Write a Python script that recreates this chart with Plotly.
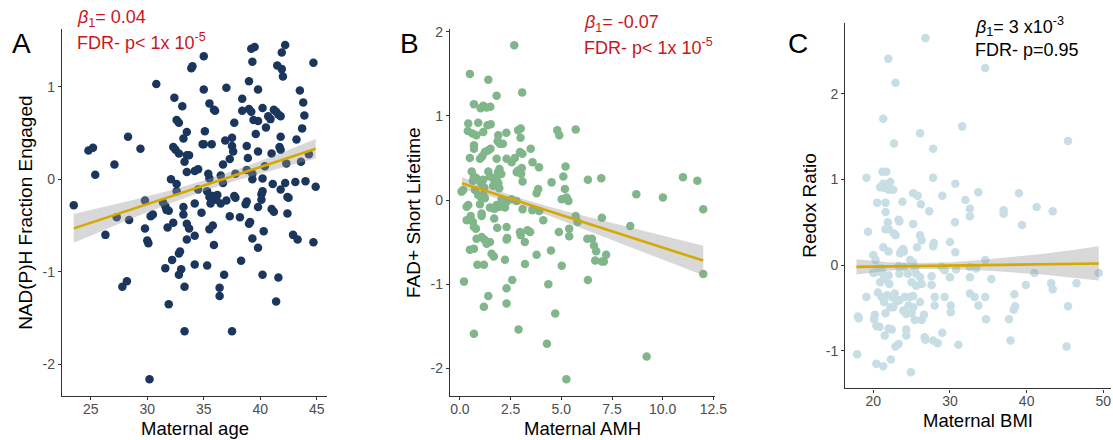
import plotly.graph_objects as go

# ---------------- Panel A : Maternal age vs NAD(P)H Fraction Engaged ----------------
age_A = [23.5,24.8,25.2,25.4,26.3,27.1,27.3,27.8,28.2,28.3,28.4,29.4,29.8,29.8,30.0,30.1,30.2,30.3,30.5,30.8,
         31.4,31.6,31.7,31.9,31.9,31.6,31.8,32.2,32.1,32.4,32.6,32.8,32.3,32.5,32.8,32.6,32.6,32.3,32.8,32.9,
         32.8,33.0,33.1,33.2,33.5,33.5,33.7,33.3,33.5,33.2,33.2,33.5,33.7,33.5,33.3,33.3,33.9,34.0,34.2,34.2,
         34.2,34.2,35.0,35.0,35.5,36.0,35.9,35.1,34.9,35.0,35.7,34.5,35.4,35.5,34.5,34.8,35.3,35.5,35.8,36.1,
         36.5,36.2,35.6,35.5,35.8,35.9,35.3,36.8,36.4,36.4,37.5,37.0,36.7,36.5,36.7,37.0,37.3,37.5,37.5,37.6,
         37.7,36.9,37.8,37.3,37.7,37.8,38.2,38.3,38.4,38.4,38.8,38.9,38.8,38.7,38.8,39.0,39.0,39.2,39.1,39.0,
         39.3,39.8,39.2,39.5,39.3,39.4,39.8,39.6,39.8,39.8,39.3,39.3,39.8,40.1,40.2,40.1,40.3,40.2,40.2,40.5,
         40.2,40.4,40.7,40.9,41.2,41.4,41.6,41.8,41.0,41.1,41.0,41.2,41.4,41.6,41.5,41.9,42.0,41.9,42.2,41.7,
         41.8,41.8,41.8,42.2,42.3,42.4,42.5,42.4,42.9,43.3,43.1,43.2,43.5,43.8,43.9,43.7,43.6,44.0,44.3,44.7,
         44.7,44.9]
nadph_A = [-0.28,0.31,0.34,0.05,-0.60,0.16,-0.41,-1.16,-1.10,0.46,-0.44,0.33,-0.23,-0.53,-0.66,-0.69,-2.16,-0.40,-0.38,1.03,
           -0.25,-0.29,-0.33,-0.34,-1.35,-0.96,-0.52,-0.87,0.00,0.88,0.64,0.61,0.35,0.32,0.28,-0.05,-0.13,-0.47,-0.80,-0.78,
           -1.03,-0.97,0.79,0.44,0.51,0.26,0.26,0.19,0.08,-0.30,-0.38,-0.48,-0.53,-0.65,-1.16,-1.64,1.20,1.22,-0.92,-0.61,
           -0.26,0.09,1.33,0.97,0.82,0.74,0.75,0.52,0.38,0.38,0.38,0.11,0.06,0.01,-0.11,-0.36,-0.13,-0.19,-0.18,-0.22,
           -0.26,-0.17,-0.26,-0.54,-0.50,-0.71,-0.93,-1.03,-1.17,-1.26,-1.64,0.99,0.16,0.04,-0.04,-0.23,0.22,0.45,0.36,0.30,
           0.61,0.42,0.06,-0.40,-0.18,-0.20,-0.41,-0.88,0.87,0.74,0.36,0.23,0.10,-0.27,-0.24,1.06,0.76,0.73,-0.46,-0.48,
           -0.64,-0.74,1.41,1.43,1.27,0.64,0.63,0.49,0.97,0.30,0.06,0.00,-0.30,-0.16,-0.13,-0.22,-0.56,-1.03,0.77,0.56,
           0.01,0.14,0.68,0.65,0.75,0.73,0.70,0.68,0.28,-0.05,-0.32,-0.35,-1.32,-1.06,1.23,1.19,1.11,1.37,1.45,0.35,
           0.32,0.46,-0.11,-0.04,0.17,-0.19,-0.20,-0.37,-0.60,-0.65,-0.03,0.43,0.96,0.83,0.69,0.55,0.19,-0.02,0.27,1.26,
           -0.68,-0.08]
fitx_A = [23.5, 26.0, 29.0, 32.0, 35.0, 38.0, 41.0, 44.9]
fity_A = [-0.53, -0.43, -0.31, -0.19, -0.07, 0.05, 0.17, 0.33]
lo_A = [-0.685, -0.555, -0.405, -0.26, -0.128, -0.008, 0.095, 0.225]
hi_A = [-0.375, -0.305, -0.215, -0.12, -0.012, 0.108, 0.245, 0.435]
ticks_xA = [25, 30, 35, 40, 45]
ticks_yA = [-2, -1, 0, 1]

# ---------------- Panel B : Maternal AMH vs FAD+ Short Lifetime ----------------
amh_B = [2.68,0.49,1.40,1.81,3.07,0.69,1.15,1.02,1.32,1.50,0.41,0.39,0.62,0.81,0.90,1.15,1.36,1.52,0.69,0.69,
         0.49,0.99,1.10,1.23,1.38,1.51,1.81,1.89,1.97,2.12,2.29,1.86,2.30,2.55,2.71,2.96,3.08,2.99,2.87,3.00,
         3.49,3.58,3.90,3.05,2.80,2.87,3.02,3.09,1.95,1.88,2.04,0.58,0.69,0.64,0.81,0.99,1.15,1.07,1.20,1.40,
         1.48,1.64,1.81,1.73,1.89,1.94,1.64,0.08,0.16,0.74,0.90,1.07,1.15,1.23,0.99,0.33,0.41,1.07,1.07,1.48,
         1.64,1.81,1.73,1.97,2.22,2.30,2.06,2.55,2.79,3.09,3.78,3.86,3.57,3.91,4.11,4.52,4.80,4.90,5.71,5.21,
         5.10,5.18,5.02,5.26,5.35,5.71,5.80,5.39,5.39,4.88,0.33,0.53,0.64,0.69,0.79,0.82,0.49,0.69,1.07,1.20,
         1.32,1.48,1.56,1.67,1.84,1.69,2.30,2.33,2.30,2.22,2.96,3.20,3.00,3.33,3.46,3.21,3.78,4.49,5.02,0.86,
         1.18,0.20,2.58,2.30,1.40,1.18,2.30,4.36,4.70,0.69,2.89,4.29,5.25,6.31,6.97,8.70,10.01,11.0,11.71,12.0,
         12.0,7.0,8.40,6.28,6.51,6.61,6.72,6.67,7.0,7.1,7.21,6.31,9.21]
fad_B = [1.84,1.50,1.43,1.24,1.28,1.14,1.12,1.09,1.10,1.11,0.91,0.82,0.79,0.77,0.92,0.81,0.89,0.90,0.65,0.61,
         0.50,0.49,0.52,0.57,0.59,0.61,0.49,0.77,0.67,0.67,0.80,0.70,0.49,0.45,0.50,0.57,0.55,0.74,0.83,0.85,
         0.61,0.45,0.39,0.38,0.33,0.35,0.31,0.22,0.37,0.33,0.31,0.34,0.28,0.23,0.26,0.23,0.24,0.19,0.15,0.34,
         0.28,0.26,0.24,0.22,0.20,0.14,0.17,0.10,0.12,0.12,0.06,0.02,0.06,0.02,-0.05,-0.08,-0.06,-0.16,-0.19,-0.09,
         -0.10,-0.06,-0.10,-0.08,-0.09,-0.02,0.01,0.01,-0.01,-0.11,0.08,0.13,-0.12,-0.13,-0.24,0.21,0.83,0.77,0.84,0.40,
         0.28,0.13,0.01,0.03,-0.01,-0.19,-0.26,-0.34,-0.43,-0.38,-0.24,-0.19,-0.26,-0.32,-0.34,-0.46,-0.59,-0.58,-0.44,-0.47,
         -0.52,-0.50,-0.64,-0.67,-0.33,-0.22,-0.32,-0.45,-0.47,-0.71,-0.38,-0.50,-0.42,-0.36,-0.38,-0.76,-0.65,-0.60,-0.78,-0.77,
         -0.77,-0.97,-0.95,-1.05,-1.14,-1.27,-1.23,-1.00,-1.35,-1.59,-1.54,-1.71,-2.13,0.24,0.26,0.07,0.03,0.27,0.23,-0.11,
         -0.88,-0.21,-0.31,-0.46,-0.46,-0.54,-0.61,-0.72,-0.73,-0.73,-0.65,-0.95,-1.86]
fitx_B = [0.1, 1.5, 3.0, 4.5, 6.0, 7.5, 9.0, 10.5, 12.0]
fity_B = [0.20, 0.092, -0.024, -0.14, -0.256, -0.372, -0.488, -0.604, -0.72]
lo_B = [0.13, 0.042, -0.069, -0.195, -0.331, -0.472, -0.613, -0.754, -0.895]
hi_B = [0.27, 0.142, 0.021, -0.085, -0.181, -0.272, -0.363, -0.454, -0.545]
ticks_xB = [0.0, 2.5, 5.0, 7.5, 10.0, 12.5]
ticks_yB = [-2, -1, 0, 1, 2]

# ---------------- Panel C : Maternal BMI vs Redox Ratio ----------------
bmi_C = [26.8,21.96,22.9,21.3,26.1,22.7,27.8,31.6,19.1,21.2,21.7,20.9,21.3,21.4,22.0,22.2,22.6,27.8,30.7,25.2,
         25.8,20.5,21.6,21.6,23.8,26.2,27.3,29.0,32.0,32.6,32.6,30.65,19.3,21.9,21.6,22.0,22.7,22.9,23.3,23.4,
         25.2,26.1,26.3,25.7,23.9,23.7,23.5,24.0,27.9,27.8,30.0,30.7,21.3,22.0,20.0,20.3,20.6,20.0,20.4,21.1,
         21.3,21.4,20.9,22.0,22.1,23.3,23.4,24.0,24.8,25.2,25.4,25.6,24.5,25.0,26.1,26.3,25.6,27.6,28.9,29.3,
         30.0,30.8,32.6,32.6,32.6,19.1,20.6,21.1,21.4,21.8,22.4,22.8,23.0,22.6,22.2,23.4,24.1,24.8,25.2,24.6,
         25.2,26.1,23.9,24.3,27.6,28.0,28.0,29.3,30.1,30.1,18.0,18.1,20.2,20.1,20.4,20.8,21.6,21.5,22.0,22.4,
         23.3,22.9,24.3,24.3,25.0,25.4,26.3,26.6,26.7,26.8,27.8,28.4,29.0,31.1,17.9,20.4,21.3,22.3,24.9,34.6,
         33.7,39.0,37.0,37.0,41.3,43.4,39.4,34.6,33.4,35.4,41.0,39.9,43.2,43.4,46.5,49.4,33.2,34.6,33.7,38.4,
         38.5,38.3,34.7,37.7,45.4,37.9,45.2,45.4]
redox_C = [2.65,2.41,2.13,1.71,1.54,1.42,1.36,1.62,1.02,1.09,1.09,0.91,0.95,0.90,0.88,0.97,0.88,1.02,0.95,0.84,
           0.81,0.73,0.73,0.62,0.74,0.71,0.63,0.81,0.76,0.66,0.57,0.50,0.39,0.50,0.42,0.42,0.37,0.35,0.53,0.51,
           0.48,0.35,0.29,0.21,0.19,0.17,0.14,0.16,0.26,0.22,0.27,0.15,0.21,0.16,0.12,0.06,-0.04,-0.09,-0.08,-0.04,
           -0.11,-0.16,-0.20,-0.12,-0.22,-0.01,-0.10,-0.02,0.06,0.03,-0.04,-0.10,-0.10,-0.20,-0.14,-0.22,-0.24,-0.13,-0.02,-0.06,
           -0.14,-0.05,-0.02,-0.14,-0.33,-0.37,-0.32,-0.37,-0.43,-0.35,-0.37,-0.33,-0.43,-0.49,-0.49,-0.41,-0.37,-0.37,-0.36,-0.47,
           -0.49,-0.43,-0.53,-0.57,-0.23,-0.37,-0.47,-0.37,-0.47,-0.55,-0.60,-0.62,-0.58,-0.63,-0.71,-0.72,-0.56,-0.82,-0.74,-0.75,
           -0.92,-0.95,-0.75,-0.82,-0.56,-0.64,-0.64,-0.58,-0.84,-0.87,-0.88,-0.91,-0.79,-0.93,-1.04,-1.15,-1.18,-1.10,-1.25,2.30,
           0.85,0.84,0.64,0.60,0.68,0.63,0.47,0.06,-0.04,-0.16,-0.09,-0.23,-0.21,-0.28,-0.21,-0.09,-0.37,-0.37,-0.47,-0.34,
           -0.48,-0.52,-0.63,-0.63,-0.48,-0.88,-0.95,1.45]
fitx_C = [17.8, 22.0, 26.0, 30.0, 34.0, 38.0, 42.0, 46.0, 49.4]
fity_C = [-0.020, -0.015, -0.010, -0.005, 0.000, 0.006, 0.011, 0.016, 0.020]
lo_C = [-0.110, -0.065, -0.045, -0.045, -0.060, -0.084, -0.109, -0.144, -0.180]
hi_C = [0.070, 0.035, 0.025, 0.035, 0.060, 0.096, 0.131, 0.176, 0.220]
ticks_xC = [20, 30, 40, 50]
ticks_yC = [-1, 0, 1, 2]

# ---------------- styling ----------------
FONT = "Liberation Sans, Arial, sans-serif"
RED = "#C8161E"
LINE_COL = "#D4AA00"
BAND_COL = "rgba(153,153,153,0.38)"
W, H = 1113, 440

def px2fx(px):
    return px / W

def px2fy(py):
    return 1 - py / H

panels = [
    dict(x=age_A, y=nadph_A, color="#1B365D", fx=fitx_A, fy=fity_A, lo=lo_A, hi=hi_A,
         xdom=[62, 327], ydom=[396, 29.3], xr=[22.46, 45.9], yr=[-2.34, 1.62],
         tx=ticks_xA, ty=ticks_yA, txt=[str(v) for v in ticks_xA],
         xtitle="Maternal age", ytitle="NAD(P)H Fraction Engaged", xt_pos=(194.5, 428)),
    dict(x=amh_B, y=fad_B, color="#80B68A", fx=fitx_B, fy=fity_B, lo=lo_B, hi=hi_B,
         xdom=[450, 715], ydom=[396, 29.3], xr=[-0.49, 12.58], yr=[-2.33, 2.03],
         tx=ticks_xB, ty=ticks_yB, txt=[f"{v:.1f}" for v in ticks_xB],
         xtitle="Maternal AMH", ytitle="FAD+ Short Lifetime", xt_pos=(582, 428)),
    dict(x=bmi_C, y=redox_C, color="#C6DEE4", fx=fitx_C, fy=fity_C, lo=lo_C, hi=hi_C,
         xdom=[845.3, 1111], ydom=[388.3, 22.7], xr=[16.35, 51.0], yr=[-1.437, 2.83],
         tx=ticks_xC, ty=ticks_yC, txt=[str(v) for v in ticks_xC],
         xtitle="Maternal BMI", ytitle="Redox Ratio", xt_pos=(978, 420)),
]

fig = go.Figure()
layout = dict(width=W, height=H, margin=dict(l=0, r=0, t=0, b=0, autoexpand=False),
              paper_bgcolor="white", plot_bgcolor="white", showlegend=False,
              font=dict(family=FONT, color="black"))

annots = []
def add_text(txt, x, y, size, color, xanchor="left"):
    annots.append(dict(text=txt, x=px2fx(x), y=px2fy(y), xref="paper", yref="paper",
                       xanchor=xanchor, yanchor="middle", showarrow=False,
                       font=dict(size=size, color=color, family=FONT)))

for i, p in enumerate(panels, start=1):
    xa = "x" if i == 1 else f"x{i}"
    ya = "y" if i == 1 else f"y{i}"
    fig.add_trace(go.Scatter(x=p["x"], y=p["y"], mode="markers", xaxis=xa, yaxis=ya,
                             marker=dict(size=8.5, color=p["color"], line=dict(width=0)),
                             hoverinfo="skip"))
    fig.add_trace(go.Scatter(x=p["fx"] + p["fx"][::-1], y=p["hi"] + p["lo"][::-1],
                             fill="toself", fillcolor=BAND_COL, line=dict(width=0),
                             mode="lines", xaxis=xa, yaxis=ya, hoverinfo="skip"))
    fig.add_trace(go.Scatter(x=p["fx"], y=p["fy"], mode="lines", xaxis=xa, yaxis=ya,
                             line=dict(color=LINE_COL, width=2.6), hoverinfo="skip"))
    axcommon = dict(showline=True, linecolor="#333333", linewidth=1.4, showgrid=False,
                    zeroline=False, ticks="outside", ticklen=3, tickwidth=1.1, automargin=False,
                    tickcolor="#333333", tickfont=dict(size=14, color="#4D4D4D", family=FONT))
    xkey = "xaxis" if i == 1 else f"xaxis{i}"
    ykey = "yaxis" if i == 1 else f"yaxis{i}"
    layout[xkey] = dict(axcommon, domain=[px2fx(p["xdom"][0]), px2fx(p["xdom"][1])],
                        range=p["xr"], anchor=ya, tickvals=p["tx"], ticktext=p["txt"],
                        ticklabelstandoff=-3)
    layout[ykey] = dict(axcommon, domain=[px2fy(p["ydom"][0]), px2fy(p["ydom"][1])],
                        range=p["yr"], anchor=xa, tickvals=p["ty"],
                        ticktext=[str(v) for v in p["ty"]],
                        title=dict(text=p["ytitle"], font=dict(size=19, family=FONT, color="black"),
                                   standoff=4))
    add_text(p["xtitle"], p["xt_pos"][0], p["xt_pos"][1], 18.5, "black", "center")

# panel letters
add_text("A", 21, 43, 28, "black", "center")
add_text("B", 409, 43, 28, "black", "center")
add_text("C", 798, 43, 28, "black", "center")
# statistics
add_text("<i>β</i><sub>1</sub>= 0.04", 75, 18.3, 18, RED)
add_text("FDR- p< 1x 10<sup>-5</sup>", 75, 41.7, 18, RED)
add_text("<i>β</i><sub>1</sub>= -0.07", 581.7, 23.3, 18, RED)
add_text("FDR- p< 1x 10<sup>-5</sup>", 581.7, 46.7, 18, RED)
add_text("<i>β</i><sub>1</sub>= 3 x10<sup>-3</sup>", 973.3, 26.7, 18, "black")
add_text("FDR- p=0.95", 973.3, 50, 18, "black")

layout["annotations"] = annots
fig.update_layout(**layout)
fig.write_html("out.html")
